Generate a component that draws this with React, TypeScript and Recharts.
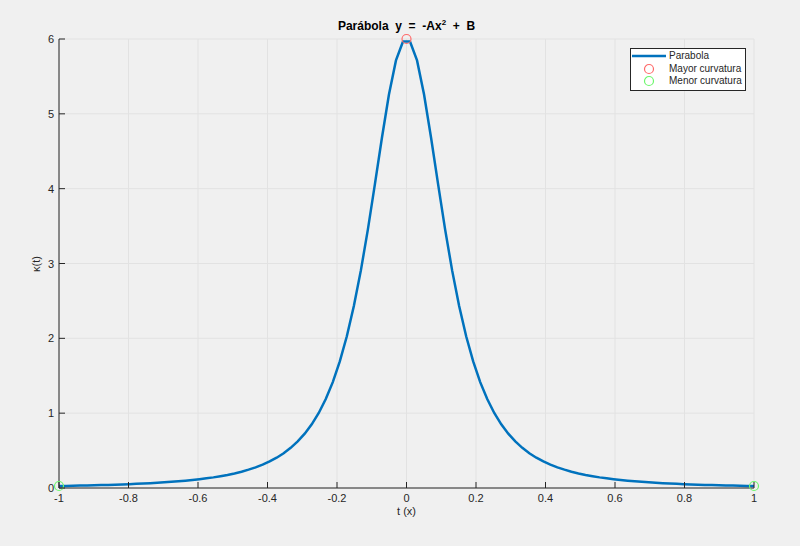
import React from "react";
import {
  ComposedChart,
  Line,
  Scatter,
  XAxis,
  YAxis,
  CartesianGrid,
  Legend,
} from "recharts";

// sampled t values (100 points between -1 and 1)
const T = [
  -1.0, -0.9798, -0.9596, -0.9394, -0.9192, -0.899, -0.8788, -0.8586, -0.8384, -0.8182,
  -0.798, -0.7778, -0.7576, -0.7374, -0.7172, -0.697, -0.6768, -0.6566, -0.6364, -0.6162,
  -0.596, -0.5758, -0.5556, -0.5354, -0.5152, -0.4949, -0.4747, -0.4545, -0.4343, -0.4141,
  -0.3939, -0.3737, -0.3535, -0.3333, -0.3131, -0.2929, -0.2727, -0.2525, -0.2323, -0.2121,
  -0.1919, -0.1717, -0.1515, -0.1313, -0.1111, -0.0909, -0.0707, -0.0505, -0.0303, -0.0101,
  0.0101, 0.0303, 0.0505, 0.0707, 0.0909, 0.1111, 0.1313, 0.1515, 0.1717, 0.1919,
  0.2121, 0.2323, 0.2525, 0.2727, 0.2929, 0.3131, 0.3333, 0.3535, 0.3737, 0.3939,
  0.4141, 0.4343, 0.4545, 0.4747, 0.4949, 0.5152, 0.5354, 0.5556, 0.5758, 0.596,
  0.6162, 0.6364, 0.6566, 0.6768, 0.697, 0.7172, 0.7374, 0.7576, 0.7778, 0.798,
  0.8182, 0.8384, 0.8586, 0.8788, 0.899, 0.9192, 0.9394, 0.9596, 0.9798, 1.0,
];

// curvature
const KAPPA = [
  0.0267, 0.0283, 0.0301, 0.032, 0.0341, 0.0363, 0.0388, 0.0415, 0.0445, 0.0477,
  0.0513, 0.0552, 0.0595, 0.0643, 0.0696, 0.0755, 0.082, 0.0894, 0.0976, 0.107,
  0.117, 0.129, 0.142, 0.158, 0.175, 0.195, 0.218, 0.245, 0.276, 0.312,
  0.355, 0.405, 0.465, 0.537, 0.622, 0.726, 0.851, 1.003, 1.188, 1.415,
  1.691, 2.027, 2.431, 2.908, 3.456, 4.06, 4.681, 5.259, 5.714, 5.967,
  5.967, 5.714, 5.259, 4.681, 4.06, 3.456, 2.908, 2.431, 2.027, 1.691,
  1.415, 1.188, 1.003, 0.851, 0.726, 0.622, 0.537, 0.465, 0.405, 0.355,
  0.312, 0.276, 0.245, 0.218, 0.195, 0.175, 0.158, 0.142, 0.129, 0.117,
  0.107, 0.0976, 0.0894, 0.082, 0.0755, 0.0696, 0.0643, 0.0595, 0.0552, 0.0513,
  0.0477, 0.0445, 0.0415, 0.0388, 0.0363, 0.0341, 0.032, 0.0301, 0.0283, 0.0267,
];

const MAX_T = [0];
const MAX_K = [6];
const MIN_T = [-1, 1];
const MIN_K = [0.0267, 0.0267];

const X_TICKS = [-1, -0.8, -0.6, -0.4, -0.2, 0, 0.2, 0.4, 0.6, 0.8, 1];
const Y_TICKS = [0, 1, 2, 3, 4, 5, 6];

const curve = T.map((t, i) => ({ t, k: KAPPA[i] }));
const maxPts = MAX_T.map((t, i) => ({ t, k: MAX_K[i] }));
const minPts = MIN_T.map((t, i) => ({ t, k: MIN_K[i] }));

const FONT = "'Liberation Sans', Arial, Helvetica, sans-serif";
const AX = "#262626";
const BLUE = "#0072BD";
const RED = "#ff6a6a";
const GREEN = "#6cf76c";
const TL = 6;

const BottomTick = (p: any) => (
  <g>
    <line x1={p.x} x2={p.x} y1={p.y} y2={p.y - TL} stroke={AX} />
    <text x={p.x} y={p.y + 14} textAnchor="middle" fontSize={11} fill={AX} fontFamily={FONT}>
      {p.payload.value}
    </text>
  </g>
);
const TopTick = (p: any) => (
  <line x1={p.x} x2={p.x} y1={p.y} y2={p.y + TL} stroke={AX} />
);
const LeftTick = (p: any) => (
  <g>
    <line x1={p.x} x2={p.x + TL} y1={p.y} y2={p.y} stroke={AX} />
    <text x={p.x - 5} y={p.y + 4} textAnchor="end" fontSize={11} fill={AX} fontFamily={FONT}>
      {p.payload.value}
    </text>
  </g>
);
const RightTick = (p: any) => (
  <line x1={p.x} x2={p.x - TL} y1={p.y} y2={p.y} stroke={AX} />
);

const ring = (color: string) => (p: any) => (
  <circle cx={p.cx} cy={p.cy} r={4.5} fill="none" stroke={color} strokeWidth={1.2} />
);

const renderLegend = () => (
  <div
    style={{
      border: `1px solid ${AX}`,
      background: "#fff",
      fontFamily: FONT,
      fontSize: 10,
      color: AX,
      padding: "1px 3px 2px 1px",
      lineHeight: "12.5px",
    }}
  >
    {[
      { name: "Parabola", kind: "line", color: BLUE },
      { name: "Mayor curvatura", kind: "ring", color: RED },
      { name: "Menor curvatura", kind: "ring", color: GREEN },
    ].map((e) => (
      <div key={e.name} style={{ display: "flex", alignItems: "center", whiteSpace: "nowrap" }}>
        <svg width={34} height={12} style={{ marginRight: 3 }}>
          {e.kind === "line" ? (
            <line x1={0} x2={34} y1={6} y2={6} stroke={e.color} strokeWidth={2.5} />
          ) : (
            <circle cx={17} cy={6} r={4.5} fill="none" stroke={e.color} strokeWidth={1.2} />
          )}
        </svg>
        <span>{e.name}</span>
      </div>
    ))}
  </div>
);

export default function App() {
  return (
    <div
      style={{
        position: "fixed",
        left: 0,
        top: 0,
        width: 800,
        height: 546,
        background: "#f0f0f0",
        fontFamily: FONT,
      }}
    >
      <div
        style={{
          position: "absolute",
          left: 0,
          width: 813,
          top: 19,
          textAlign: "center",
          fontWeight: "bold",
          fontSize: 12,
          color: "#000",
          whiteSpace: "pre",
        }}
      >
        {"Parábola  y  =  -Ax"}
        <span style={{ fontSize: 8, position: "relative", top: -5 }}>2</span>
        {"  +  B"}
      </div>
      <div
        style={{
          position: "absolute",
          left: 36,
          top: 264,
          transform: "translate(-50%, -50%) rotate(-90deg)",
          fontSize: 11,
          color: AX,
          whiteSpace: "nowrap",
        }}
      >
        κ(t)
      </div>
      <ComposedChart
        width={800}
        height={546}
        margin={{ top: 39, right: 46, bottom: 0, left: 0 }}
        style={{ position: "absolute", left: 0, top: 0 }}
      >
        <CartesianGrid stroke="#e2e2e2" xAxisId="b" yAxisId="l" />
        <XAxis
          xAxisId="b"
          dataKey="t"
          type="number"
          domain={[-1, 1]}
          ticks={X_TICKS}
          height={58}
          stroke={AX}
          tickLine={false}
          tickSize={0}
          tickMargin={0}
          tick={<BottomTick />}
          label={{ value: "t (x)", position: "insideTop", offset: 19, fontSize: 11, fill: AX, fontFamily: FONT }}
        />
        <XAxis
          xAxisId="top"
          orientation="top"
          dataKey="t"
          type="number"
          domain={[-1, 1]}
          ticks={X_TICKS}
          height={0}
          stroke={AX}
          tickLine={false}
          tickSize={0}
          tickMargin={0}
          tick={<TopTick />}
        />
        <YAxis
          yAxisId="l"
          type="number"
          domain={[0, 6]}
          ticks={Y_TICKS}
          width={59}
          stroke={AX}
          tickLine={false}
          tickSize={0}
          tickMargin={0}
          tick={<LeftTick />}
        />
        <YAxis
          yAxisId="r"
          orientation="right"
          type="number"
          domain={[0, 6]}
          ticks={Y_TICKS}
          width={0}
          stroke={AX}
          tickLine={false}
          tickSize={0}
          tickMargin={0}
          tick={<RightTick />}
        />
        <Line
          xAxisId="b"
          yAxisId="l"
          data={curve}
          dataKey="k"
          type="linear"
          stroke={BLUE}
          strokeWidth={2.5}
          dot={false}
          isAnimationActive={false}
        />
        <Scatter
          xAxisId="b"
          yAxisId="l"
          data={maxPts}
          dataKey="k"
          shape={ring(RED)}
          isAnimationActive={false}
        />
        <Scatter
          xAxisId="b"
          yAxisId="l"
          data={minPts}
          dataKey="k"
          shape={ring(GREEN)}
          isAnimationActive={false}
        />
        <Legend
          layout="horizontal"
          verticalAlign="middle"
          align="center"
          wrapperStyle={{ top: 48, left: 630, width: "auto" }}
          content={renderLegend}
        />
      </ComposedChart>
    </div>
  );
}
